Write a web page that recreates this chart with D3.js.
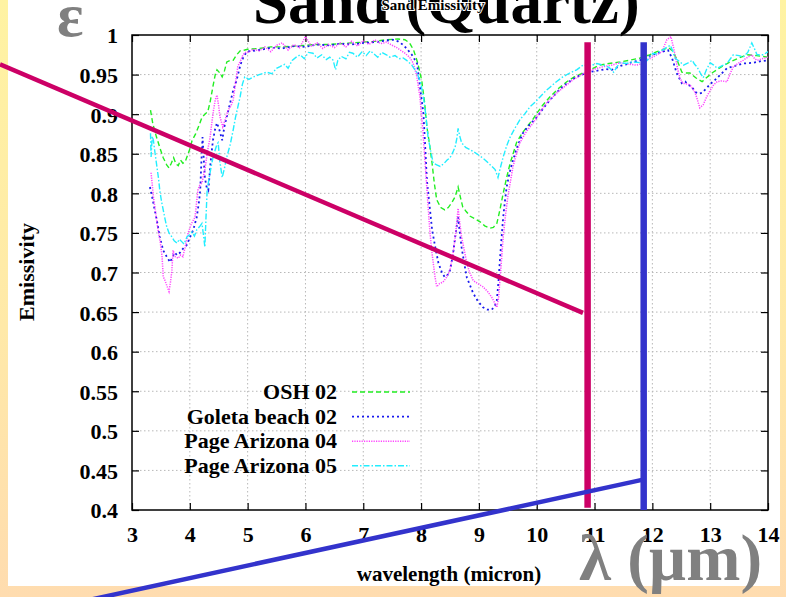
<!DOCTYPE html>
<html>
<head>
<meta charset="utf-8">
<script src="https://cdn.jsdelivr.net/npm/d3@7"></script>
<style>
  html, body { margin: 0; padding: 0; background: #fff; }
  svg { display: block; }
</style>
</head>
<body>
<svg id="chart" width="786" height="597"></svg>
<script>
// Emissivity spectra of quartz sand samples (wavelength in micron, emissivity)
const osh02 = [[3.32,0.905],[3.36,0.888],[3.42,0.872],[3.48,0.858],[3.54,0.845],[3.6,0.836],[3.64,0.832],[3.68,0.838],[3.72,0.845],[3.76,0.837],[3.8,0.835],[3.84,0.842],[3.88,0.838],[3.92,0.84],[3.96,0.848],[4.0,0.856],[4.04,0.867],[4.1,0.875],[4.16,0.886],[4.21,0.896],[4.26,0.9],[4.31,0.903],[4.35,0.915],[4.4,0.935],[4.44,0.95],[4.47,0.956],[4.52,0.952],[4.56,0.947],[4.6,0.955],[4.64,0.966],[4.7,0.968],[4.75,0.968],[4.8,0.974],[4.87,0.98],[4.95,0.981],[5.0,0.982],[5.2,0.983],[5.4,0.985],[5.6,0.985],[5.8,0.986],[6.0,0.987],[6.2,0.988],[6.4,0.988],[6.6,0.989],[6.8,0.99],[7.0,0.991],[7.2,0.992],[7.4,0.994],[7.6,0.995],[7.72,0.994],[7.8,0.99],[7.87,0.981],[7.94,0.965],[8.01,0.943],[8.06,0.915],[8.1,0.884],[8.15,0.86],[8.19,0.838],[8.23,0.812],[8.27,0.792],[8.34,0.782],[8.41,0.779],[8.47,0.782],[8.53,0.788],[8.59,0.796],[8.64,0.808],[8.68,0.795],[8.72,0.783],[8.78,0.777],[8.85,0.771],[8.93,0.768],[9.02,0.764],[9.1,0.759],[9.19,0.756],[9.25,0.757],[9.31,0.762],[9.36,0.778],[9.42,0.8],[9.48,0.82],[9.54,0.838],[9.6,0.852],[9.65,0.864],[9.74,0.875],[9.83,0.884],[9.92,0.892],[10.0,0.901],[10.1,0.911],[10.23,0.922],[10.37,0.932],[10.52,0.941],[10.65,0.947],[10.8,0.952],[10.95,0.957],[11.09,0.962],[11.25,0.964],[11.44,0.966],[11.6,0.968],[11.79,0.971],[11.95,0.975],[12.08,0.979],[12.2,0.982],[12.28,0.984],[12.35,0.98],[12.43,0.968],[12.51,0.953],[12.58,0.952],[12.65,0.952],[12.75,0.946],[12.86,0.941],[12.95,0.947],[13.05,0.953],[13.2,0.96],[13.34,0.966],[13.5,0.971],[13.64,0.975],[13.8,0.974],[14.0,0.972]];

const goletaBeach02 = [[3.31,0.808],[3.35,0.795],[3.39,0.78],[3.43,0.766],[3.48,0.745],[3.54,0.728],[3.6,0.72],[3.66,0.713],[3.7,0.72],[3.74,0.725],[3.78,0.722],[3.83,0.725],[3.88,0.73],[3.95,0.735],[4.0,0.744],[4.06,0.754],[4.12,0.77],[4.16,0.79],[4.18,0.804],[4.2,0.84],[4.22,0.871],[4.24,0.845],[4.26,0.82],[4.29,0.808],[4.32,0.804],[4.36,0.84],[4.4,0.867],[4.44,0.882],[4.47,0.889],[4.52,0.878],[4.56,0.867],[4.6,0.885],[4.64,0.897],[4.69,0.912],[4.75,0.93],[4.81,0.943],[4.86,0.958],[4.9,0.968],[4.95,0.975],[4.99,0.979],[5.2,0.981],[5.4,0.984],[5.6,0.983],[5.8,0.986],[6.0,0.985],[6.2,0.988],[6.4,0.987],[6.6,0.989],[6.8,0.988],[7.0,0.99],[7.2,0.991],[7.4,0.993],[7.51,0.994],[7.6,0.992],[7.68,0.988],[7.75,0.983],[7.84,0.975],[7.93,0.964],[7.98,0.935],[8.04,0.901],[8.07,0.86],[8.1,0.817],[8.15,0.782],[8.19,0.754],[8.25,0.73],[8.3,0.712],[8.36,0.7],[8.41,0.694],[8.46,0.697],[8.5,0.703],[8.55,0.722],[8.59,0.745],[8.64,0.77],[8.67,0.75],[8.7,0.732],[8.75,0.71],[8.79,0.694],[8.85,0.683],[8.9,0.674],[8.98,0.664],[9.07,0.656],[9.15,0.653],[9.22,0.653],[9.27,0.657],[9.31,0.665],[9.34,0.69],[9.36,0.712],[9.39,0.742],[9.42,0.77],[9.45,0.79],[9.48,0.808],[9.53,0.826],[9.59,0.842],[9.67,0.86],[9.76,0.876],[9.88,0.887],[10.0,0.896],[10.12,0.908],[10.23,0.918],[10.38,0.93],[10.52,0.939],[10.64,0.945],[10.75,0.949],[10.9,0.953],[11.05,0.955],[11.2,0.957],[11.3,0.956],[11.45,0.961],[11.55,0.963],[11.66,0.966],[11.78,0.968],[11.92,0.972],[12.07,0.977],[12.18,0.979],[12.27,0.981],[12.34,0.971],[12.42,0.952],[12.51,0.939],[12.57,0.941],[12.62,0.937],[12.68,0.935],[12.74,0.928],[12.8,0.926],[12.86,0.927],[12.94,0.933],[13.0,0.938],[13.08,0.943],[13.18,0.95],[13.29,0.958],[13.43,0.961],[13.57,0.964],[13.75,0.965],[13.88,0.967],[14.0,0.968]];

const pageArizona04 = [[3.33,0.826],[3.37,0.796],[3.41,0.775],[3.45,0.754],[3.49,0.738],[3.52,0.72],[3.54,0.695],[3.57,0.69],[3.6,0.684],[3.64,0.676],[3.67,0.69],[3.69,0.703],[3.71,0.728],[3.75,0.72],[3.8,0.718],[3.84,0.722],[3.88,0.72],[3.92,0.732],[3.97,0.75],[4.03,0.762],[4.09,0.77],[4.14,0.804],[4.17,0.81],[4.21,0.813],[4.26,0.83],[4.31,0.855],[4.35,0.87],[4.38,0.889],[4.41,0.905],[4.44,0.918],[4.47,0.924],[4.5,0.91],[4.52,0.897],[4.57,0.884],[4.62,0.895],[4.66,0.905],[4.71,0.91],[4.75,0.918],[4.79,0.94],[4.83,0.96],[4.88,0.968],[4.92,0.975],[4.96,0.978],[5.0,0.978],[5.1,0.982],[5.2,0.98],[5.3,0.985],[5.4,0.979],[5.5,0.987],[5.6,0.99],[5.7,0.981],[5.8,0.988],[5.9,0.984],[6.0,0.998],[6.1,0.986],[6.2,0.99],[6.3,0.983],[6.4,0.988],[6.5,0.984],[6.6,0.99],[6.7,0.985],[6.8,0.992],[6.9,0.986],[7.0,0.993],[7.1,0.988],[7.2,0.994],[7.3,0.989],[7.4,0.991],[7.5,0.987],[7.58,0.984],[7.64,0.981],[7.72,0.977],[7.8,0.972],[7.86,0.965],[7.92,0.95],[7.98,0.922],[8.03,0.88],[8.07,0.838],[8.11,0.795],[8.15,0.754],[8.18,0.73],[8.21,0.712],[8.24,0.695],[8.27,0.682],[8.32,0.686],[8.38,0.688],[8.44,0.694],[8.5,0.703],[8.55,0.722],[8.59,0.745],[8.62,0.765],[8.64,0.781],[8.67,0.762],[8.7,0.745],[8.75,0.727],[8.79,0.712],[8.84,0.7],[8.9,0.69],[8.98,0.686],[9.07,0.682],[9.15,0.676],[9.22,0.669],[9.27,0.662],[9.31,0.656],[9.34,0.668],[9.36,0.687],[9.39,0.715],[9.42,0.745],[9.46,0.772],[9.5,0.796],[9.55,0.817],[9.59,0.834],[9.65,0.85],[9.71,0.864],[9.82,0.878],[9.94,0.889],[10.05,0.902],[10.17,0.914],[10.35,0.927],[10.52,0.937],[10.62,0.943],[10.71,0.947],[10.85,0.953],[11.0,0.957],[11.15,0.96],[11.3,0.962],[11.44,0.965],[11.6,0.963],[11.72,0.962],[11.84,0.964],[11.92,0.969],[12.01,0.972],[12.1,0.976],[12.17,0.979],[12.21,0.987],[12.25,0.994],[12.32,0.998],[12.37,0.983],[12.41,0.968],[12.44,0.956],[12.48,0.945],[12.53,0.939],[12.6,0.938],[12.65,0.937],[12.7,0.932],[12.74,0.927],[12.78,0.918],[12.82,0.908],[12.88,0.912],[12.94,0.922],[13.0,0.93],[13.06,0.937],[13.12,0.941],[13.2,0.942],[13.29,0.941],[13.35,0.952],[13.4,0.96],[13.48,0.964],[13.57,0.968],[13.65,0.972],[13.72,0.975],[13.77,0.97],[13.81,0.968],[13.9,0.97],[14.0,0.972]];

const pageArizona05 = [[3.32,0.876],[3.33,0.846],[3.35,0.872],[3.37,0.867],[3.4,0.85],[3.43,0.834],[3.46,0.818],[3.48,0.804],[3.51,0.79],[3.54,0.779],[3.57,0.768],[3.6,0.758],[3.64,0.75],[3.69,0.745],[3.73,0.74],[3.78,0.737],[3.82,0.742],[3.86,0.739],[3.9,0.736],[3.95,0.745],[4.0,0.748],[4.04,0.751],[4.08,0.746],[4.12,0.754],[4.17,0.758],[4.21,0.762],[4.24,0.745],[4.26,0.732],[4.28,0.77],[4.3,0.804],[4.34,0.822],[4.38,0.838],[4.41,0.848],[4.44,0.855],[4.47,0.862],[4.49,0.864],[4.52,0.84],[4.56,0.82],[4.6,0.832],[4.64,0.846],[4.7,0.862],[4.75,0.88],[4.79,0.896],[4.83,0.909],[4.87,0.922],[4.91,0.938],[4.95,0.947],[5.02,0.944],[5.1,0.947],[5.2,0.95],[5.33,0.953],[5.42,0.951],[5.5,0.958],[5.56,0.96],[5.64,0.963],[5.7,0.958],[5.77,0.968],[5.84,0.972],[5.91,0.975],[5.98,0.97],[6.05,0.978],[6.13,0.977],[6.2,0.971],[6.28,0.975],[6.36,0.969],[6.42,0.972],[6.48,0.968],[6.52,0.956],[6.56,0.968],[6.62,0.973],[6.7,0.97],[6.76,0.978],[6.82,0.977],[6.9,0.972],[6.98,0.979],[7.05,0.974],[7.12,0.98],[7.17,0.977],[7.25,0.972],[7.32,0.978],[7.4,0.975],[7.46,0.972],[7.55,0.974],[7.62,0.97],[7.69,0.971],[7.75,0.968],[7.84,0.962],[7.93,0.952],[7.99,0.94],[8.04,0.922],[8.08,0.9],[8.12,0.871],[8.17,0.852],[8.21,0.838],[8.27,0.836],[8.33,0.834],[8.4,0.838],[8.45,0.842],[8.5,0.845],[8.55,0.852],[8.59,0.859],[8.62,0.87],[8.64,0.882],[8.67,0.872],[8.7,0.864],[8.77,0.858],[8.85,0.855],[8.92,0.852],[8.98,0.849],[9.06,0.845],[9.14,0.84],[9.21,0.835],[9.28,0.83],[9.33,0.82],[9.37,0.832],[9.42,0.846],[9.48,0.86],[9.54,0.871],[9.62,0.882],[9.71,0.893],[9.8,0.901],[9.88,0.909],[9.97,0.915],[10.06,0.922],[10.15,0.929],[10.23,0.934],[10.34,0.941],[10.45,0.947],[10.57,0.952],[10.69,0.956],[10.8,0.962],[10.92,0.961],[11.04,0.964],[11.15,0.962],[11.25,0.959],[11.33,0.953],[11.39,0.96],[11.44,0.965],[11.55,0.964],[11.66,0.966],[11.79,0.965],[11.85,0.963],[11.91,0.968],[12.01,0.977],[12.07,0.976],[12.13,0.979],[12.22,0.983],[12.31,0.987],[12.35,0.98],[12.39,0.971],[12.48,0.966],[12.54,0.962],[12.6,0.964],[12.69,0.968],[12.73,0.963],[12.77,0.96],[12.83,0.952],[12.88,0.946],[12.94,0.957],[13.0,0.965],[13.06,0.962],[13.12,0.958],[13.2,0.961],[13.29,0.964],[13.35,0.97],[13.4,0.975],[13.5,0.974],[13.57,0.972],[13.65,0.978],[13.72,0.99],[13.77,0.982],[13.81,0.975],[13.92,0.975],[14.0,0.979]];

const seriesNames = ["OSH 02", "Goleta beach 02", "Page Arizona 04", "Page Arizona 05"];
const seriesData = [osh02, goletaBeach02, pageArizona04, pageArizona05];
const seriesColors = ["#22ee22", "#1a1aee", "#ff44ff", "#22eeff"];
const seriesDash = ["5,3", "2,3", "1.2,1.2", "6,2,1.5,2"];
const seriesWidth = [1.4, 1.8, 1.5, 1.4];

const xTicks = [3, 4, 5, 6, 7, 8, 9, 10, 11, 12, 13, 14];
const yTicks = [0.4, 0.45, 0.5, 0.55, 0.6, 0.65, 0.7, 0.75, 0.8, 0.85, 0.9, 0.95, 1];

// Marker bands (micron) and the annotation strokes, in data units
const bandLines = [
  { wl: 10.88, top: 0.991, bottom: 0.403, color: "#cc0066" },
  { wl: 11.85, top: 0.991, bottom: 0.4, color: "#3333cc" }
];
const slopeLines = [
  { from: [0.717, 0.963], to: [10.8, 0.649], color: "#cc0066" },
  { from: [2.3, 0.287], to: [11.82, 0.438], color: "#3333cc" }
];

const serif = "'Liberation Serif', 'Times New Roman', 'DejaVu Serif', serif";
const svg = d3.select("#chart");
const W = 786, H = 597;
const plot = { left: 132, right: 768, top: 35, bottom: 510 };

const x = d3.scaleLinear().domain([3, 14]).range([plot.left, plot.right]);
const y = d3.scaleLinear().domain([0.4, 1]).range([plot.bottom, plot.top]);

// Slide background
const defs = svg.append("defs");
const grad = defs.append("linearGradient").attr("id", "bg").attr("x1", 0).attr("y1", 0).attr("x2", 0).attr("y2", 1);
grad.append("stop").attr("offset", "0%").attr("stop-color", "#fff3a2");
grad.append("stop").attr("offset", "55%").attr("stop-color", "#ffe9a8");
grad.append("stop").attr("offset", "100%").attr("stop-color", "#ffdcaf");
svg.append("rect").attr("width", W).attr("height", H).attr("fill", "url(#bg)");
svg.append("rect").attr("x", 8).attr("y", 0).attr("width", 772).attr("height", 586).attr("fill", "#ffffff");

defs.append("clipPath").attr("id", "plotclip")
  .append("rect").attr("x", plot.left).attr("y", plot.top - 4)
  .attr("width", plot.right - plot.left).attr("height", plot.bottom - plot.top + 4);

// Grid
const grid = svg.append("g").attr("stroke", "#b8b8b8").attr("stroke-width", 1).attr("stroke-dasharray", "1.5,2.5");
grid.selectAll("line.gx").data(xTicks.slice(1, -1)).join("line")
  .attr("x1", d => x(d)).attr("x2", d => x(d)).attr("y1", plot.top).attr("y2", plot.bottom);
grid.selectAll("line.gy").data(yTicks.slice(1, -1)).join("line")
  .attr("x1", plot.left).attr("x2", plot.right).attr("y1", d => y(d)).attr("y2", d => y(d));

// Axes with inward ticks on all four sides
const tickFont = g => g.selectAll("text").attr("font-family", serif).attr("font-weight", "bold")
  .attr("font-size", 22).attr("fill", "#000");
svg.append("g").attr("transform", `translate(0,${plot.bottom})`)
  .call(d3.axisBottom(x).tickValues(xTicks).tickSize(-7).tickPadding(16).tickFormat(d3.format("d")))
  .call(g => g.select(".domain").remove())
  .call(tickFont)
  .call(g => g.selectAll("line").attr("stroke", "#000").attr("stroke-width", 1.2));
svg.append("g").attr("transform", `translate(${plot.left},0)`)
  .call(d3.axisLeft(y).tickValues(yTicks).tickSize(-7).tickPadding(14).tickFormat(d => d3.format("")(+d.toFixed(2))))
  .call(g => g.select(".domain").remove())
  .call(tickFont)
  .call(g => g.selectAll("text").attr("dy", "0.36em"))
  .call(g => g.selectAll("line").attr("stroke", "#000").attr("stroke-width", 1.2));
svg.append("g").attr("transform", `translate(0,${plot.top})`)
  .call(d3.axisTop(x).tickValues(xTicks).tickSize(-7).tickFormat(""))
  .call(g => g.select(".domain").remove())
  .call(g => g.selectAll("line").attr("stroke", "#000").attr("stroke-width", 1.2));
svg.append("g").attr("transform", `translate(${plot.right},0)`)
  .call(d3.axisRight(y).tickValues(yTicks).tickSize(-7).tickFormat(""))
  .call(g => g.select(".domain").remove())
  .call(g => g.selectAll("line").attr("stroke", "#000").attr("stroke-width", 1.2));

svg.append("rect").attr("x", plot.left).attr("y", plot.top)
  .attr("width", plot.right - plot.left).attr("height", plot.bottom - plot.top)
  .attr("fill", "none").attr("stroke", "#000").attr("stroke-width", 1.5);

// Axis titles
svg.append("text").attr("x", 449).attr("y", 581).attr("text-anchor", "middle")
  .attr("font-family", serif).attr("font-weight", "bold").attr("font-size", 21).text("wavelength (micron)");
svg.append("text").attr("transform", "translate(34,272) rotate(-90)").attr("text-anchor", "middle")
  .attr("font-family", serif).attr("font-weight", "bold").attr("font-size", 22).text("Emissivity");

// Spectra
const line = d3.line().x(d => x(d[0])).y(d => y(d[1]));
svg.append("g").attr("clip-path", "url(#plotclip)")
  .selectAll("path").data(seriesData).join("path")
  .attr("d", line).attr("fill", "none")
  .attr("stroke", (d, i) => seriesColors[i])
  .attr("stroke-width", (d, i) => seriesWidth[i])
  .attr("stroke-dasharray", (d, i) => seriesDash[i]);

// Legend
const legend = svg.append("g");
seriesNames.forEach((name, i) => {
  const ly = 392 + i * 24.6;
  legend.append("text").attr("x", 337).attr("y", ly + 7).attr("text-anchor", "end")
    .attr("font-family", serif).attr("font-weight", "bold").attr("font-size", 22).text(name);
  legend.append("line").attr("x1", 352).attr("x2", 410).attr("y1", ly).attr("y2", ly)
    .attr("stroke", seriesColors[i]).attr("stroke-width", seriesWidth[i])
    .attr("stroke-dasharray", seriesDash[i]);
});

// Slide title over the chart header
svg.append("text").attr("x", 253).attr("y", 23)
  .attr("font-family", serif).attr("font-weight", "bold").attr("font-size", 63).attr("fill", "#000")
  .text("Sand (Quartz)");
svg.append("text").attr("x", 433).attr("y", 10).attr("text-anchor", "middle")
  .attr("font-family", serif).attr("font-weight", "bold").attr("font-size", 15).attr("fill", "#000")
  .attr("stroke", "#fff").attr("stroke-width", 2).attr("paint-order", "stroke")
  .text("Sand Emissivity");

// Band marker lines and annotation strokes
svg.append("g").selectAll("line").data(bandLines).join("line")
  .attr("x1", d => x(d.wl)).attr("x2", d => x(d.wl))
  .attr("y1", d => y(d.top)).attr("y2", d => y(d.bottom))
  .attr("stroke", d => d.color).attr("stroke-width", 6.5);
svg.append("g").selectAll("line").data(slopeLines).join("line")
  .attr("x1", d => x(d.from[0])).attr("y1", d => y(d.from[1]))
  .attr("x2", d => x(d.to[0])).attr("y2", d => y(d.to[1]))
  .attr("stroke", d => d.color).attr("stroke-width", 4.5).attr("stroke-linecap", "butt");

// Symbol labels
svg.append("text").attr("x", 57).attr("y", 36)
  .attr("font-family", serif).attr("font-weight", "bold").attr("font-size", 62).attr("fill", "#808080")
  .text("ε");
svg.append("text").attr("x", 579).attr("y", 580)
  .attr("font-family", serif).attr("font-weight", "bold").attr("font-size", 65).attr("fill", "#808080")
  .text("λ (µm)");
</script>
</body>
</html>
